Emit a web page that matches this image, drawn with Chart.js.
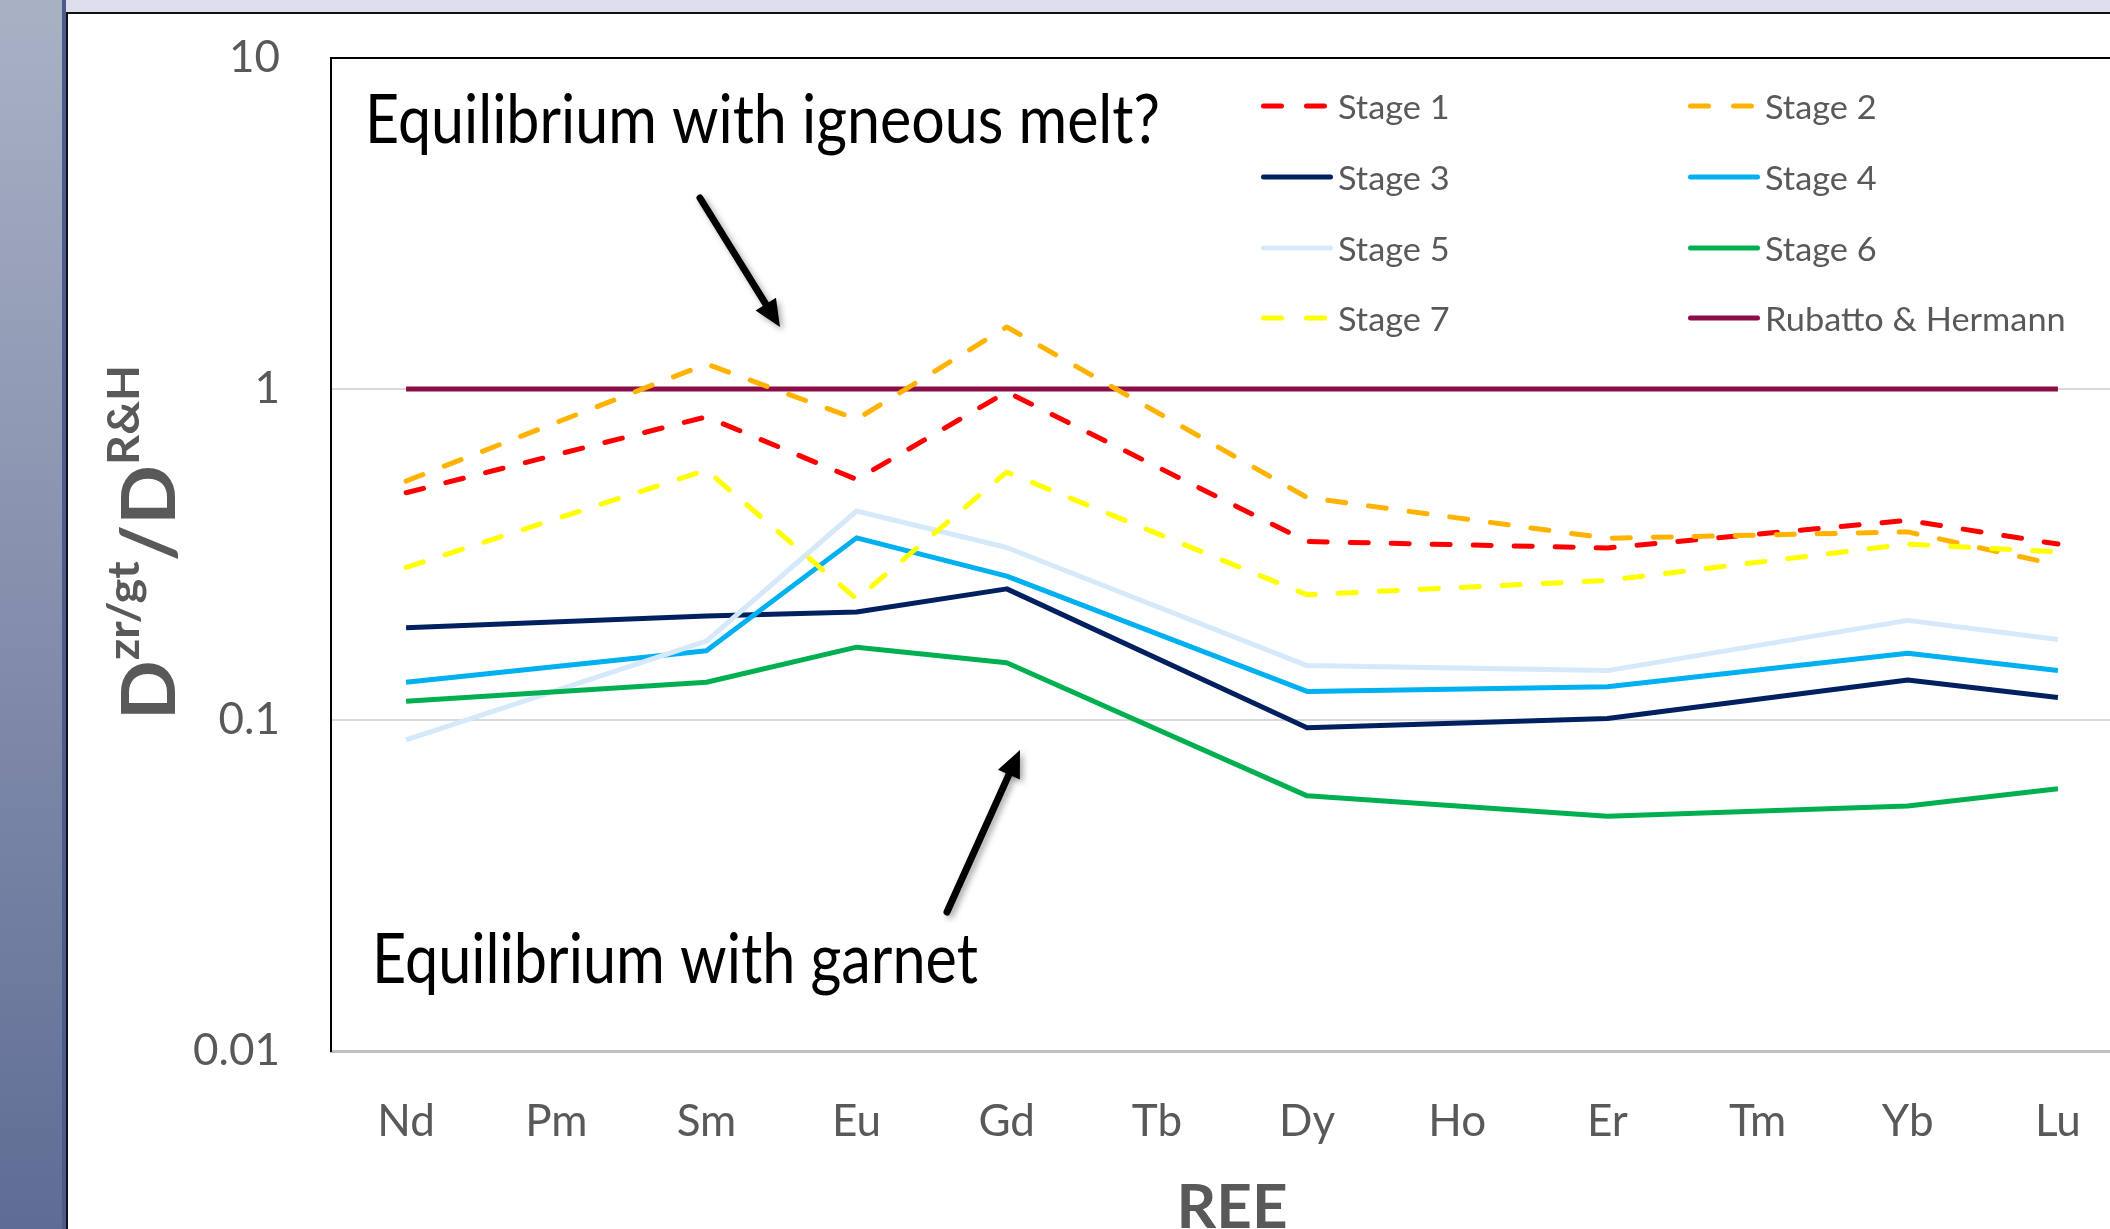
<!DOCTYPE html>
<html>
<head>
<meta charset="utf-8">
<script src="https://cdn.jsdelivr.net/npm/chart.js@4.4.1/dist/chart.umd.min.js"></script>
<style>
  html, body { margin: 0; padding: 0; background: #fff; overflow: hidden; width: 2110px; height: 1229px; }
  #wrap { position: relative; width: 2110px; height: 1229px; overflow: hidden; }
  #chart { position: absolute; left: 0; top: 0; }
  #side { position: absolute; left: 0; top: 0; width: 62px; height: 1229px; background: linear-gradient(#a9b1c5, #5f6c94); border-right: 4px solid #4c5c8a; z-index: 2; }
  #sideEdge { position: absolute; left: 66px; top: 0; width: 2px; height: 1229px; background: #111; z-index: 2; }
  #topband { position: absolute; left: 66px; top: 0; right: 0; height: 12px; background: #dde0ec; border-bottom: 2px solid #111; z-index: 2; }
</style>
</head>
<body>
<div id="wrap">
  <canvas id="chart" width="2150" height="1260"></canvas>
  <div id="side"></div>
  <div id="sideEdge"></div>
  <div id="topband"></div>
</div>
<script>
const categories = ['Nd', 'Pm', 'Sm', 'Eu', 'Gd', 'Tb', 'Dy', 'Ho', 'Er', 'Tm', 'Yb', 'Lu'];

// values, gaps where the original has no point
const stage1 = [0.486, null, 0.824, 0.533, 0.98, null, 0.346, null, 0.331, null, 0.401, 0.340];
const stage2 = [0.527, null, 1.19, 0.81, 1.54, null, 0.470, null, 0.354, null, 0.370, 0.294];
const stage3 = [0.190, null, 0.206, 0.212, 0.249, null, 0.0948, null, 0.101, null, 0.132, 0.117];
const stage4 = [0.130, null, 0.162, 0.355, 0.272, null, 0.122, null, 0.126, null, 0.159, 0.141];
const stage5 = [0.0871, null, 0.173, 0.428, 0.332, null, 0.146, null, 0.141, null, 0.200, 0.175];
const stage6 = [0.114, null, 0.130, 0.166, 0.149, null, 0.059, null, 0.0512, null, 0.055, 0.062];
const stage7 = [0.289, null, 0.569, 0.232, 0.561, null, 0.239, null, 0.264, null, 0.340, 0.322];
const rubatto = [1, 1, 1, 1, 1, 1, 1, 1, 1, 1, 1, 1];

const yTicks = [0.01, 0.1, 1, 10];
const yTickLabels = ['0.01', '0.1', '1', '10'];

const seriesNames = ['Stage 1', 'Stage 2', 'Stage 3', 'Stage 4', 'Stage 5', 'Stage 6', 'Stage 7', 'Rubatto & Hermann'];
const seriesData = [stage1, stage2, stage3, stage4, stage5, stage6, stage7, rubatto];
const seriesColors = ['#ff0000', '#ffb300', '#002060', '#00b0f0', '#d5e9fa', '#00b050', '#ffff00', '#8b0e49'];
const seriesDashed = [true, true, false, false, false, false, true, false];

const DASH = [18, 23];

const datasets = seriesNames.map((name, i) => ({
    label: name,
    data: seriesData[i],
    borderColor: seriesColors[i],
    backgroundColor: seriesColors[i],
    borderWidth: 5,
    borderDash: seriesDashed[i] ? DASH : [],
    borderCapStyle: seriesDashed[i] ? 'round' : 'butt',
    borderJoinStyle: 'round',
    pointRadius: 0,
    tension: 0,
    spanGaps: true,
    fill: false,
    // rubatto at the bottom, later stages on top
    order: i === 7 ? 9 : 8 - i
}));

function fitText(ctx, text, x, y, w) {
    const m = ctx.measureText(text).width;
    ctx.save();
    ctx.translate(x, y);
    ctx.scale(w / m, 1);
    ctx.fillText(text, 0, 0);
    ctx.restore();
}

function arrow(ctx, x1, y1, x2, y2) {
    const ang = Math.atan2(y2 - y1, x2 - x1);
    const c = Math.cos(ang), s = Math.sin(ang);
    const hl = 27, hw = 12;
    const bx = x2 - hl * c, by = y2 - hl * s;
    ctx.save();
    ctx.shadowColor = 'rgba(0,0,0,0.35)';
    ctx.shadowBlur = 6;
    ctx.shadowOffsetX = 3;
    ctx.shadowOffsetY = 3;
    ctx.strokeStyle = '#000';
    ctx.fillStyle = '#000';
    ctx.lineWidth = 7;
    ctx.beginPath();
    ctx.moveTo(x1, y1);
    ctx.lineTo(bx + 3 * c, by + 3 * s);
    ctx.stroke();
    ctx.beginPath();
    ctx.moveTo(x2, y2);
    ctx.lineTo(bx + hw * s, by - hw * c);
    ctx.lineTo(bx - hw * s, by + hw * c);
    ctx.closePath();
    ctx.fill();
    ctx.restore();
}

const extras = {
    id: 'extras',
    afterDraw(chart) {
        const ctx = chart.ctx;
        const a = chart.chartArea;
        ctx.save();

        // top border of the plot area
        ctx.strokeStyle = '#000';
        ctx.lineWidth = 2;
        ctx.beginPath();
        ctx.moveTo(a.left, a.top);
        ctx.lineTo(a.right, a.top);
        ctx.stroke();

        // legend, two columns
        const colX = [1261, 1688];
        const rowY = [106, 177, 248, 318];
        ctx.font = '33px Lato';
        ctx.textBaseline = 'middle';
        ctx.textAlign = 'left';
        seriesNames.forEach((name, i) => {
            const x = colX[i % 2];
            const y = rowY[Math.floor(i / 2)];
            ctx.strokeStyle = seriesColors[i];
            ctx.lineWidth = 5;
            ctx.lineCap = 'round';
            ctx.beginPath();
            if (seriesDashed[i]) {
                ctx.setLineDash([18, 25]);
                ctx.moveTo(x + 2.5, y);
                ctx.lineTo(x + 64, y);
            } else {
                ctx.setLineDash([]);
                ctx.moveTo(x + 2.5, y);
                ctx.lineTo(x + 69.5, y);
            }
            ctx.stroke();
            ctx.setLineDash([]);
            ctx.fillStyle = '#595959';
            const w = ctx.measureText(name).width * 1.04;
            fitText(ctx, name, x + 77, y + 2, w);
        });

        // annotations
        ctx.fillStyle = '#000';
        ctx.textBaseline = 'alphabetic';
        ctx.font = '67px Lato';
        fitText(ctx, 'Equilibrium with igneous melt?', 365, 143, 795);
        ctx.font = '69px Lato';
        fitText(ctx, 'Equilibrium with garnet', 372, 983, 606);

        arrow(ctx, 700, 198, 780, 327);
        arrow(ctx, 947, 912, 1020, 750);

        // y axis title D^{zr/gt}/D^{R&H}
        const parts = [['D', false], ['zr/gt', true], ['/', false], ['D', false], ['R&H', true]];
        const mainFont = 'bold 74px Lato', supFont = 'bold 44px Lato';
        let total = 0;
        const widths = parts.map(([t, sup]) => {
            ctx.font = sup ? supFont : mainFont;
            const w = ctx.measureText(t).width;
            total += w;
            return w;
        });
        ctx.fillStyle = '#595959';
        ctx.translate(175, 720);
        ctx.rotate(-Math.PI / 2);
        ctx.scale(355 / total, 1);
        let px = 0;
        parts.forEach(([t, sup], i) => {
            ctx.font = sup ? supFont : mainFont;
            ctx.fillText(t, px, sup ? -36 : 0);
            px += widths[i];
        });
        ctx.restore();
    }
};

//eslint-disable-next-line
const reeChart = new Chart(document.getElementById('chart'), {
    type: 'line',
    data: { labels: categories, datasets: datasets },
    options: {
        responsive: false,
        animation: false,
        layout: { padding: { top: 58, right: 17, left: 0, bottom: 0 } },
        plugins: { legend: { display: false }, tooltip: { enabled: false } },
        scales: {
            x: {
                offset: true,
                grid: { display: false, drawTicks: false },
                border: { color: '#bfbfbf', width: 3 },
                ticks: { color: '#595959', font: { family: 'Lato', size: 44 }, padding: 44, maxRotation: 0, autoSkip: false },
                title: { display: true, text: 'REE', color: '#595959', font: { family: 'Lato', size: 62, weight: 'bold' }, padding: { top: 0, bottom: 15 } },
                afterFit(s) { s.height = 209; }
            },
            y: {
                type: 'logarithmic',
                min: 0.01,
                max: 10,
                // invisible tick marks push the labels out without adding top padding
                grid: { color: '#d9d9d9', lineWidth: 2, drawTicks: true, tickLength: 51, tickColor: 'rgba(0,0,0,0)' },
                border: { color: '#000', width: 2 },
                ticks: {
                    color: '#595959',
                    font: { family: 'Lato', size: 44 },
                    padding: 0,
                    callback: (v) => {
                        const i = yTicks.indexOf(v);
                        return i >= 0 ? yTickLabels[i] : '';
                    }
                },
                afterBuildTicks(s) { s.ticks = yTicks.map(v => ({ value: v })); },
                afterFit(s) { s.width = 331; }
            }
        }
    },
    plugins: [extras]
});
</script>
</body>
</html>
